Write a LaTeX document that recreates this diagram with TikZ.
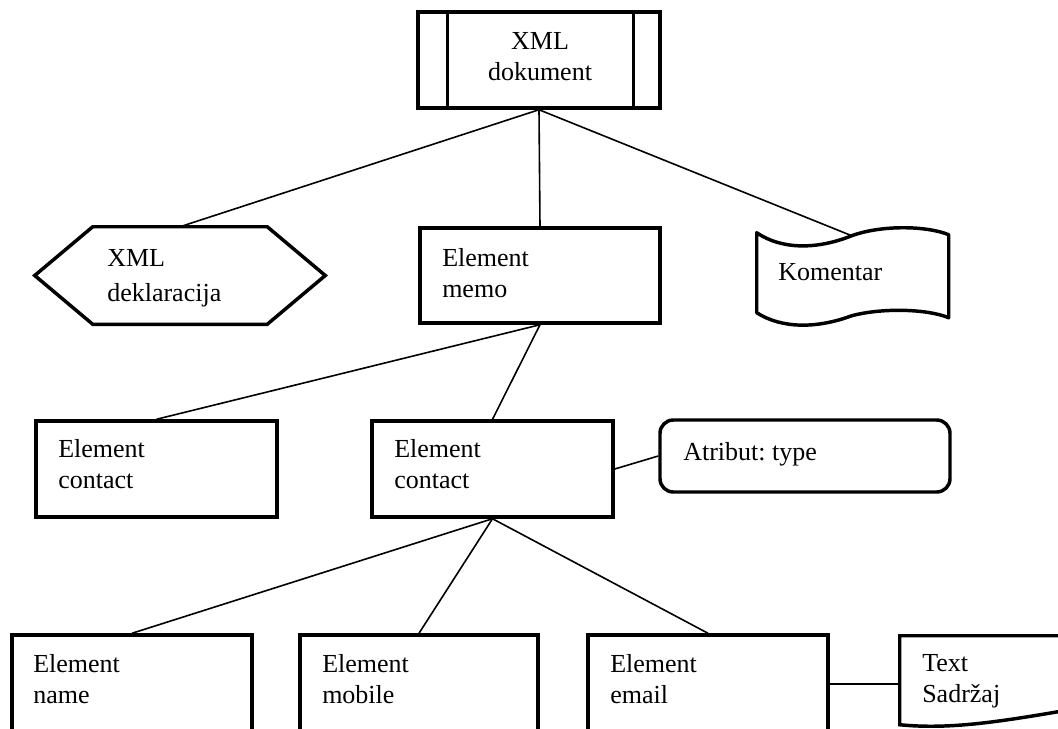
\documentclass[tikz,border=0pt]{standalone}
\usepackage{fontspec}
\setmainfont{Liberation Serif}
\usetikzlibrary{fit,calc}
\tikzset{
  box/.style={draw, line width=2.6pt, inner sep=0pt},
  ghost/.style={inner sep=0pt},
  outline/.style={draw, line width=2.6pt},
  link/.style={draw, line width=1.2pt},
  lbl/.style={anchor=base west, align=left, inner sep=0pt, font=\fontsize{19.5}{23.25}\selectfont\frenchspacing},
}
\begin{document}
\begin{tikzpicture}[x=0.75pt,y=-0.75pt]
\fill[white] (0,0) rectangle (1058,729);
\useasboundingbox (0,0) rectangle (1058,729);

% top document box
\node[box, fit={(418,12)(660,108)}] (doc) {};
\draw[outline] ($(doc.north west)+(31,0)$) -- ($(doc.south west)+(31,0)$);
\draw[outline] ($(doc.north east)+(-28,0)$) -- ($(doc.south east)+(-28,0)$);
\node[lbl, anchor=base, align=center] (doct) at (540,80) {XML\\dokument};

% hexagon
\node[ghost, fit={(35,227)(325,324)}] (hex) {};
\draw[outline] (hex.west) -- ($(hex.north west)+(58,0)$) -- ($(hex.north east)+(-58,0)$)
  -- (hex.east) -- ($(hex.south east)+(-58,0)$) -- ($(hex.south west)+(58,0)$) -- cycle;
\node[lbl, font=\fontsize{19.5}{26.25}\selectfont] (hext) at (107,301) {XML\\deklaracija};

% element memo
\node[box, fit={(420,228)(660,323)}] (memo) {};
\node[lbl] (memot) at (442,297) {Element\\memo};

% komentar
\node[ghost, fit={(757,228)(949,318)}] (kom) {};
\begin{scope}[shift={(kom.north west)}]
\draw[outline, line join=round] (0,5) .. controls (25,22) and (60,22) .. (95,8)
  .. controls (125,-3) and (170,-2) .. (192,7) -- (192,90)
  .. controls (170,81) and (125,80) .. (95,88)
  .. controls (60,101) and (25,101) .. (0,85) -- cycle;
\coordinate (komtop) at (95,8);
\end{scope}
\node[lbl] (komt) at (778,280) {Komentar};

% row 3
\node[box, fit={(36,421)(277,517)}] (lcon) {};
\node[lbl] (lcont) at (58,488) {Element\\contact};
\node[box, fit={(372,421)(613,517)}] (mcon) {};
\node[lbl] (mcont) at (394,488) {Element\\contact};
\node[box, rounded corners=10pt, fit={(660,420)(950,492)}] (attr) {};
\node[lbl] (attrt) at (683,460) {Atribut: type};

% row 4
\node[box, fit={(12,635)(252,733)}] (name) {};
\node[lbl] (namet) at (33,703) {Element\\name};
\node[box, fit={(300,635)(538,733)}] (mob) {};
\node[lbl] (mobt) at (322,703) {Element\\mobile};
\node[box, fit={(588,635)(828,733)}] (email) {};
\node[lbl] (emailt) at (610,703) {Element\\email};

% text content (document shape)
\node[ghost, fit={(900,636)(1140,725)}] (txt) {};
\begin{scope}[shift={(txt.north west)}]
\draw[outline] (0,89) -- (0,0) -- (240,0) -- (240,70)
  .. controls (200,70) and (185,71) .. (170,74)
  .. controls (100,86) and (50,94) .. (0,89) -- cycle;
\end{scope}
\node[lbl] (txtt) at (922,702) {Text\\Sadržaj};

% connectors
\draw[link] (doc.south) -- (hex.north);
\draw[link] (doc.south) -- (memo.north);
\draw[link] (doc.south) -- (komtop);
\draw[link] (memo.south) -- (lcon.north);
\draw[link] (memo.south) -- (mcon.north);
\draw[link] (mcon.east) -- (attr.west);
\draw[link] (mcon.south) -- (name.north);
\draw[link] (mcon.south) -- (mob.north);
\draw[link] (mcon.south) -- (email.north);
\draw[link] (email.east) -- (email.east -| txt.west);
\end{tikzpicture}
\end{document}
